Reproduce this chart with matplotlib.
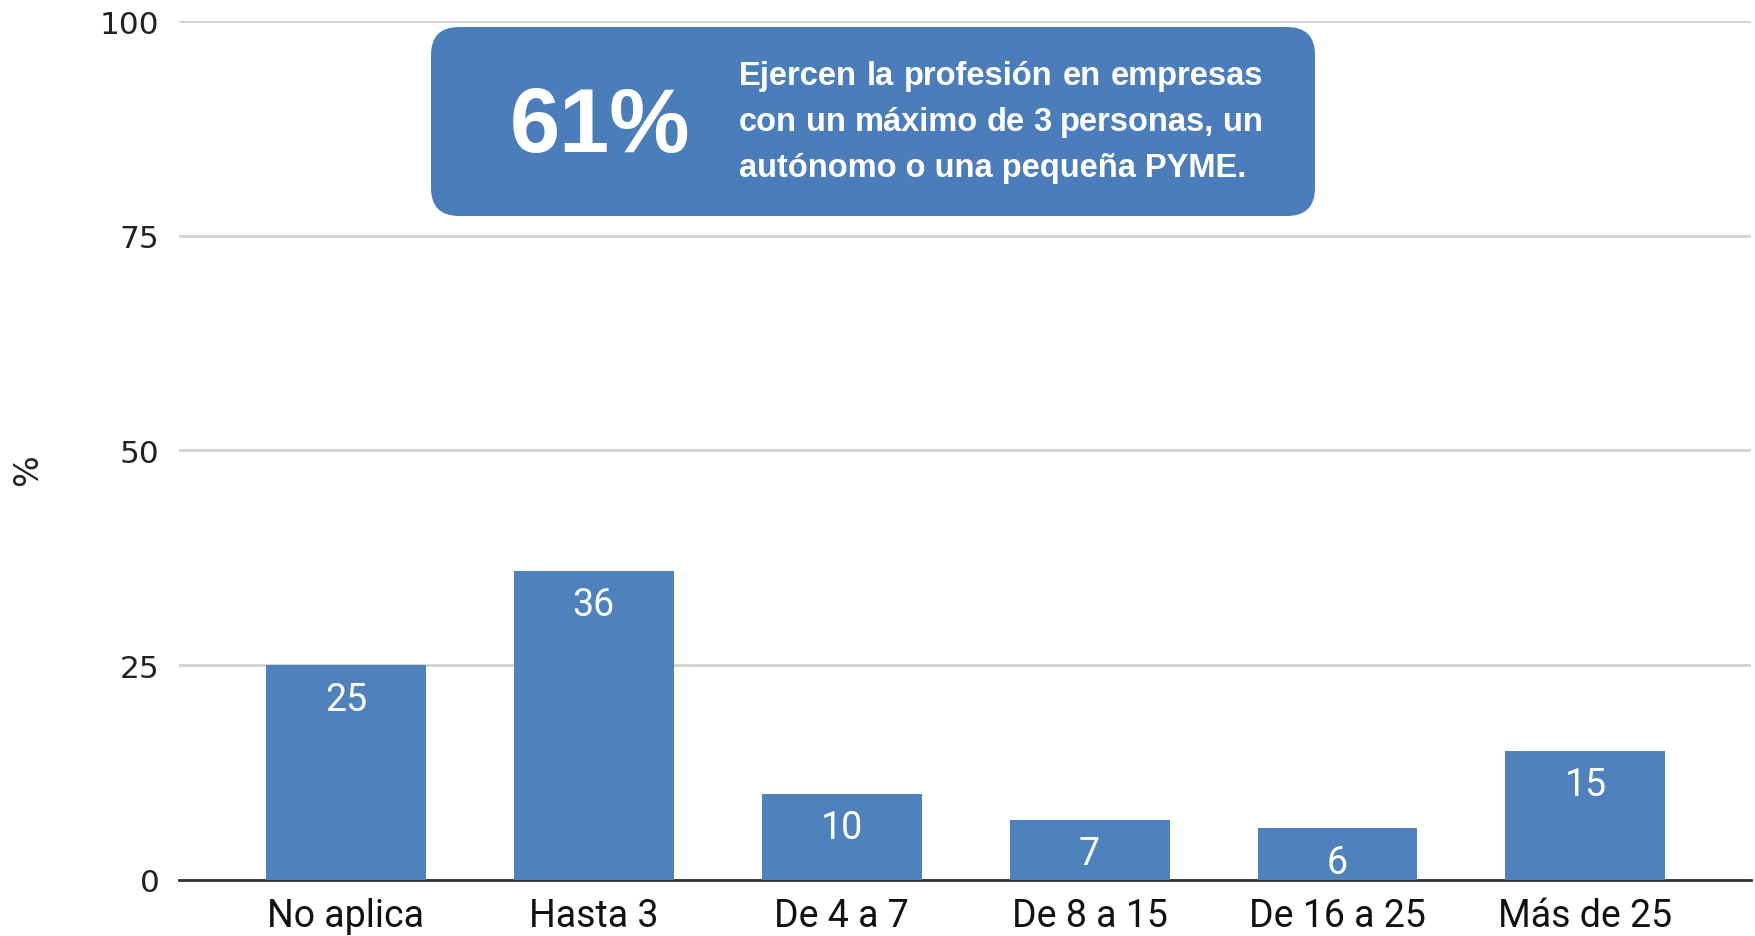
import matplotlib
matplotlib.use('Agg')
import matplotlib.pyplot as plt
from matplotlib.patches import FancyBboxPatch
from matplotlib.transforms import IdentityTransform

# datos
categories = ['No aplica', 'Hasta 3', 'De 4 a 7', 'De 8 a 15', 'De 16 a 25', 'Más de 25']
values = [25, 36, 10, 7, 6, 15]
y_ticks = [0, 25, 50, 75, 100]
highlight = '61%'
note_lines = ['Ejercen la profesión en empresas',
              'con un máximo de 3 personas, un',
              'autónomo o una pequeña PYME.']

bar_color = '#4f81bd'
box_color = '#4a7dba'

fig = plt.figure(figsize=(17.55, 9.37), dpi=100)
ax = fig.add_axes([0.102, 0.0598, 0.896, 0.9167])

x = list(range(len(categories)))
ax.bar(x, values, width=0.645, color=bar_color, zorder=3)
for xi, v in zip(x, values):
    ax.annotate(str(v), (xi, v), xytext=(0, -11), textcoords='offset points',
                ha='center', va='top', color='white', fontsize=27, family='Roboto', zorder=4)

ax.set_xlim(-0.673, 5.67)
ax.set_ylim(0, 100)
ax.set_yticks(y_ticks)
ax.set_xticks(x)
ax.set_xticklabels(categories, fontsize=27, family='Roboto', color='#111111')
for lab in ax.get_yticklabels():
    lab.set_fontsize(22.5)
    lab.set_family('DejaVu Sans')
    lab.set_color('#222222')
ax.tick_params(axis='y', length=0, pad=14)
ax.tick_params(axis='x', length=0, pad=12)
ax.grid(axis='y', color='#d2d2d2', linewidth=2)
ax.set_axisbelow(True)
for s in ['left', 'right', 'top']:
    ax.spines[s].set_visible(False)
ax.spines['bottom'].set_color('#333333')
ax.spines['bottom'].set_linewidth(2)
ax.set_ylabel('%', fontsize=24, family='DejaVu Sans', color='#222222', va='center')
ax.yaxis.set_label_coords(-0.096, 0.478)

# recuadro con el mensaje (coordenadas en pixeles)
box = FancyBboxPatch((431, 720), 884, 189, boxstyle='round,pad=0,rounding_size=28',
                     transform=IdentityTransform(), facecolor=box_color, edgecolor='none')
fig.add_artist(box)
fig.text(600, 808, highlight, transform=IdentityTransform(), ha='center', va='center',
         fontsize=65, fontweight='bold', family='Liberation Sans', color='white')

renderer = fig.canvas.get_renderer()
x0, x1 = 739, 1263
baselines = [852, 806, 760]
for i, (line, yb) in enumerate(zip(note_lines, baselines)):
    if i == len(note_lines) - 1:
        fig.text(x0, yb, line, transform=IdentityTransform(), ha='left', va='baseline',
                 fontsize=23.5, fontweight='bold', family='Liberation Sans', color='white')
        continue
    words = line.split()
    texts = [fig.text(0, yb, w, transform=IdentityTransform(), ha='left', va='baseline',
                      fontsize=23.5, fontweight='bold', family='Liberation Sans', color='white')
             for w in words]
    widths = [t.get_window_extent(renderer).width for t in texts]
    gap = (x1 - x0 - sum(widths)) / (len(words) - 1)
    pos = x0
    for t, w in zip(texts, widths):
        t.set_x(pos)
        pos += w + gap

fig.savefig('out.png', dpi=100)
